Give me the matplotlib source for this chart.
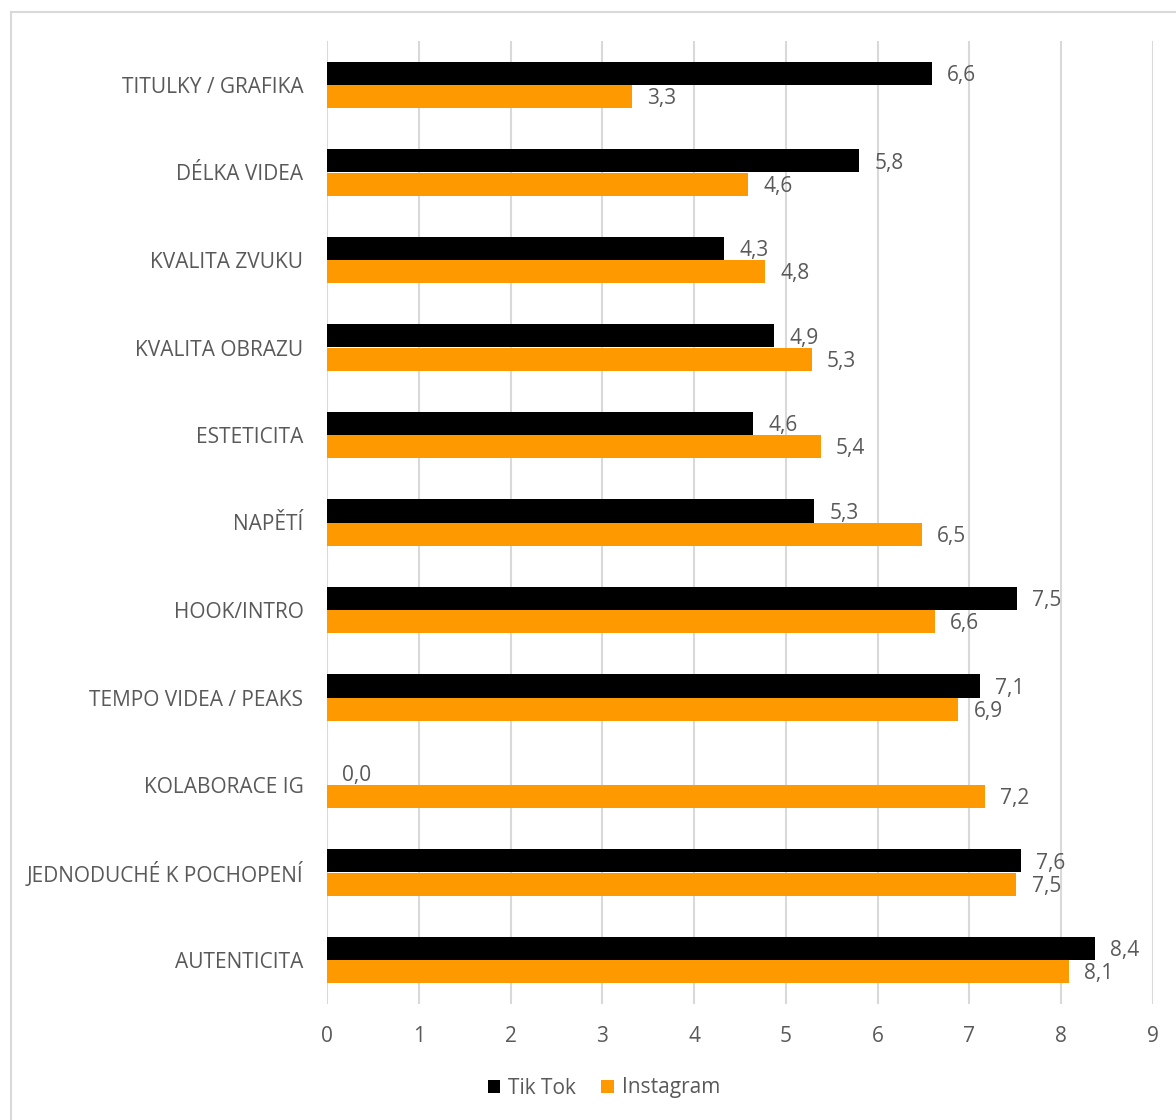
import matplotlib
matplotlib.use("Agg")
import matplotlib.pyplot as plt
from matplotlib.lines import Line2D
from matplotlib.patches import Patch
import numpy as np

plt.rcParams['font.family'] = ['Open Sans', 'DejaVu Sans']

categories = ["TITULKY / GRAFIKA", "DÉLKA VIDEA", "KVALITA ZVUKU", "KVALITA OBRAZU",
              "ESTETICITA", "NAPĚTÍ", "HOOK/INTRO", "TEMPO VIDEA / PEAKS",
              "KOLABORACE IG", "JEDNODUCHÉ K POCHOPENÍ", "AUTENTICITA"]
tiktok = [6.59, 5.80, 4.33, 4.87, 4.64, 5.31, 7.52, 7.11, 0.0, 7.56, 8.37]
instagram = [3.32, 4.59, 4.77, 5.28, 5.38, 6.48, 6.62, 6.88, 7.17, 7.51, 8.08]
series_names = ["Tik Tok", "Instagram"]
xticks = [0, 1, 2, 3, 4, 5, 6, 7, 8, 9]

TXT = "#595959"
GRID = "#d9d9d9"
C_TT = "#000000"
C_IG = "#ff9900"
FS = 15

W, H = 1176, 1120
fig = plt.figure(figsize=(W / 100, H / 100), dpi=100)
ax = fig.add_axes([327 / W, 1 - 1003.75 / H, (1153 - 327) / W, (1003.75 - 41.25) / H])

y = np.arange(len(categories))
h = 0.263
b1 = ax.barh(y - h / 2, tiktok, height=h, color=C_TT, zorder=3)
b2 = ax.barh(y + h / 2, instagram, height=h, color=C_IG, zorder=3)

fmt = lambda v: f"{v:.1f}".replace(".", ",")
for bars, vals in ((b1, tiktok), (b2, instagram)):
    for bar, v in zip(bars, vals):
        ax.annotate(fmt(v), (bar.get_width(), bar.get_y() + bar.get_height() / 2),
                    xytext=(11, -1.5), textcoords="offset points", va="center", ha="left",
                    fontsize=FS, color=TXT, zorder=4)

ax.set_xlim(0, 9)
ax.set_ylim(len(categories) - 0.5, -0.5)
ax.set_xticks(xticks)
ax.set_xticklabels([str(t) for t in xticks])
ax.set_yticks(y)
ax.set_yticklabels(categories)
ax.tick_params(axis="both", length=0, colors=TXT, labelsize=FS)
ax.tick_params(axis="x", pad=16)
ax.tick_params(axis="y", pad=17)
for s in ax.spines.values():
    s.set_visible(False)
ax.grid(axis="x", color=GRID, linewidth=1.5, zorder=0)
ax.set_axisbelow(True)

handles = [Patch(facecolor=C_TT), Patch(facecolor=C_IG)]
leg = fig.legend(handles, series_names, loc="center", bbox_to_anchor=(604 / W, 1 - 1088 / H),
                 ncol=2, frameon=False, fontsize=FS, handlelength=0.6, handleheight=0.6,
                 handletextpad=0.4, columnspacing=1.2)
for t in leg.get_texts():
    t.set_color(TXT)

# chart border (top and left visible)
fig.add_artist(Line2D([11 / W, 1], [1 - 12 / H, 1 - 12 / H], transform=fig.transFigure, color=GRID, lw=1.5))
fig.add_artist(Line2D([11 / W, 11 / W], [0, 1 - 12 / H], transform=fig.transFigure, color=GRID, lw=1.5))

fig.savefig("out.png", dpi=100, facecolor="white")
